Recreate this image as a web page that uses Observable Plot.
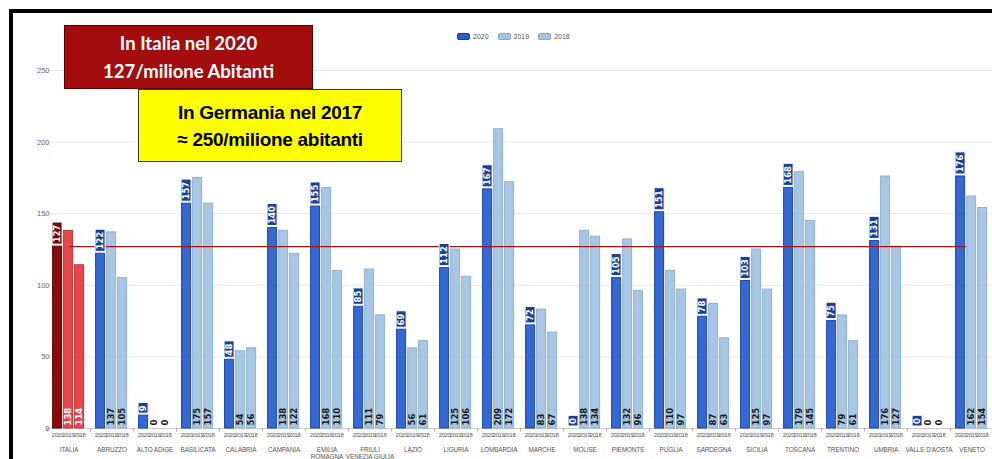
<!DOCTYPE html>
<html>
<head>
<meta charset="utf-8">
<script src="https://cdn.jsdelivr.net/npm/d3@7"></script>
<script src="https://cdn.jsdelivr.net/npm/@observablehq/plot@0.6"></script>
<style>
  html, body { margin: 0; padding: 0; background: #fff; overflow: hidden; }
  #wrap { position: relative; width: 992px; height: 459px; overflow: hidden; background: #fff; }
  #chart { position: absolute; left: 0; top: 0; width: 1010px; }
  #chart svg { max-width: none !important; }
  #chart svg g[aria-label="x-axis tick label"] text { letter-spacing: -0.35px; }
  #chart svg g[aria-label="fx-axis tick label"] text { letter-spacing: -0.1px; }
  #frameL { position: absolute; left: 9px; top: 9px; width: 4px; height: 460px; background: #000; }
  #frameT { position: absolute; left: 9px; top: 9px; width: 990px; height: 4px; background: #000; }
  .note { position: absolute; display: flex; flex-direction: column; align-items: center; justify-content: center; box-sizing: border-box; font-weight: bold; }
  #noteIt { left: 64px; top: 25px; width: 249px; height: 64px; background: #a30d0d; border: 1px solid #5a0000; color: #fff; font-family: Lato, "Open Sans", sans-serif; font-size: 18.5px; line-height: 28px; }
  #noteDe { left: 138px; top: 89px; width: 264px; height: 73px; background: #ffff00; border: 1.5px solid #333; color: #000; font-family: "Liberation Sans", Arial, sans-serif; font-size: 19px; line-height: 27px; letter-spacing: -0.3px; }
  #legend { position: absolute; top: 33px; left: 457px; display: flex; align-items: center; font-family: "Liberation Sans", sans-serif; font-size: 7px; color: #555; }
  #legend .sw { display: inline-block; width: 13px; height: 7px; border-radius: 2px; margin-right: 3px; box-sizing: border-box; }
  #legend .it { display: flex; align-items: center; margin-right: 9px; }
</style>
</head>
<body>
<div id="wrap">
  <div id="chart"></div>
  <div class="note" id="noteIt"><div>In Italia nel 2020</div><div>127/milione Abitanti</div></div>
  <div class="note" id="noteDe"><div>In Germania nel 2017</div><div>≈ 250/milione abitanti</div></div>
  <div id="legend"></div>
  <div id="frameL"></div>
  <div id="frameT"></div>
</div>
<script>
const regions = ["ITALIA","ABRUZZO","ALTO ADIGE","BASILICATA","CALABRIA","CAMPANIA","EMILIA\nROMAGNA","FRIULI\nVENEZIA GIULIA","LAZIO","LIGURIA","LOMBARDIA","MARCHE","MOLISE","PIEMONTE","PUGLIA","SARDEGNA","SICILIA","TOSCANA","TRENTINO","UMBRIA","VALLE D'AOSTA","VENETO"];
const years = ["2020","2019","2018"];
const values2020 = [127,122,9,157,48,140,155,85,69,112,167,72,0,105,151,78,103,168,75,131,0,176];
const values2019 = [138,137,0,175,54,138,168,111,56,125,209,83,138,132,110,87,125,179,79,176,0,162];
const values2018 = [114,105,0,157,56,122,110,79,61,106,172,67,134,96,97,63,97,145,61,127,0,154];
const referenceValue = 127;
const yTicks = [0,50,100,150,200,250];

const series = {"2020": values2020, "2019": values2019, "2018": values2018};
const rows = [];
regions.forEach((r, i) => years.forEach(y => rows.push({region: r, year: y, value: series[y][i]})));

const isItaly = d => d.region === "ITALIA";
const fillOf = d => isItaly(d) ? (d.year === "2020" ? "#8c0a0a" : "#e8464a") : (d.year === "2020" ? "#3568d4" : "#a8c6e3");
const strokeOf = d => isItaly(d) ? (d.year === "2020" ? "#5a0000" : "#c53535") : (d.year === "2020" ? "#1d47a8" : "#8eb2d6");

const marginTop = 70, marginBottom = 31, H = 459;
const pxPerUnit = (H - marginTop - marginBottom) / 250;
const boxLen = v => (String(v).length * 5.7 + 5) / pxPerUnit;

const top2020 = rows.filter(d => d.year === "2020");
const bottomRows = rows.filter(d => d.year !== "2020");

const plot = Plot.plot({
  width: 1010,
  height: H,
  marginTop, marginBottom,
  marginLeft: 34.4,
  marginRight: 4.4,
  style: {fontFamily: "'DejaVu Sans', sans-serif", background: "transparent", maxWidth: "none"},
  fx: {domain: regions, paddingInner: 0.227, paddingOuter: 0.15, label: null},
  x: {domain: years, paddingInner: 0.17, paddingOuter: 0, label: null},
  y: {domain: [0, 250], label: null},
  marks: [
    Plot.ruleY(yTicks.filter(t => t > 0), {stroke: "#e9e9e9", strokeWidth: 1, insetLeft: -5, insetRight: -5}),
    Plot.ruleY([0], {stroke: "#c9c9c9", insetLeft: -5, insetRight: -5}),
    Plot.ruleX(["2020"], {x: d => d, y1: 0, y2: -2.4, dx: -10, stroke: "#c9a0a0"}),
    Plot.barY(rows, {fx: "region", x: "year", y: "value", fill: fillOf, stroke: strokeOf, strokeWidth: 1}),
    Plot.ruleY(regions.slice(0, 1), {fx: d => d, y: referenceValue, stroke: "#a31515", strokeWidth: 1.2, insetLeft: 17, insetRight: -5}),
    Plot.ruleY(regions.slice(1, -1), {fx: d => d, y: referenceValue, stroke: "#a31515", strokeWidth: 1.2, insetLeft: -5, insetRight: -5}),
    Plot.ruleY(regions.slice(-1), {fx: d => d, y: referenceValue, stroke: "#a31515", strokeWidth: 1.2, insetLeft: -5, insetRight: 22}),
    Plot.barY(top2020, {fx: "region", x: "year", y1: "value", y2: d => d.value + boxLen(d.value), dy: -2,
      fill: d => isItaly(d) ? "#6e0707" : "#1a3e9f", stroke: "#fff", strokeWidth: 1, insetLeft: -0.5, insetRight: -0.5}),
    Plot.text(top2020, {fx: "region", x: "year", y: d => d.value + boxLen(d.value) / 2, dy: -2, text: d => String(d.value),
      rotate: -90, fill: "#fff", fontWeight: "bold", fontSize: 8.5}),
    Plot.text(bottomRows, {fx: "region", x: "year", y: 0, dy: -3, text: d => String(d.value), rotate: -90, textAnchor: "start",
      fill: d => isItaly(d) ? "#fff" : "#1a1a1a", fontWeight: "bold", fontSize: 8.5}),
    Plot.axisY({ticks: yTicks, tickSize: 0, tickPadding: 3, fontSize: 7.5, fill: "#666", label: null, fontFamily: "'Liberation Sans', sans-serif"}),
    Plot.axisX({anchor: "bottom", tickSize: 0, tickPadding: 4, fontSize: 5.8, fill: "#555", label: null, fontFamily: "'Liberation Sans', sans-serif"}),
    Plot.axisFx({anchor: "bottom", tickSize: 0, tickPadding: 18.5, fontSize: 6.4, fill: "#555", label: null, fontFamily: "'Liberation Sans', sans-serif", lineHeight: 1.1})
  ]
});
document.getElementById("chart").appendChild(plot);

const legend = document.getElementById("legend");
[["2020", "#2c5dc9", "#193c9c"], ["2019", "#a8c6e3", "#7fa6cf"], ["2018", "#a8c6e3", "#7fa6cf"]].forEach(([lab, f, s]) => {
  const it = document.createElement("div");
  it.className = "it";
  it.innerHTML = `<span class="sw" style="background:${f};border:1px solid ${s}"></span><span>${lab}</span>`;
  legend.appendChild(it);
});
</script>
</body>
</html>
